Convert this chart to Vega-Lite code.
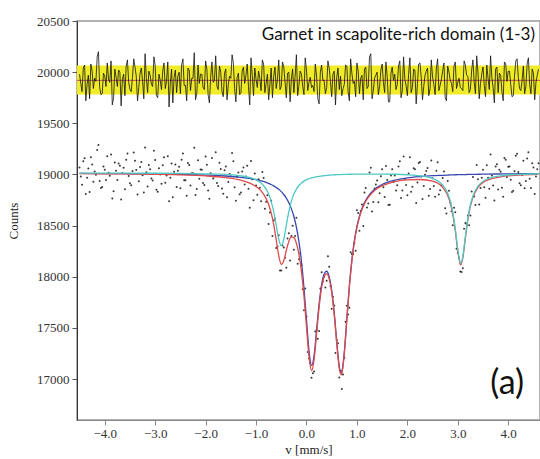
{
"$schema":"https://vega.github.io/schema/vega-lite/v6.json",
"width":463,"height":399,
"autosize":{"type":"none"},
"padding":{"left":77,"top":21,"right":0,"bottom":39},
"background":"white",
"config":{"view":{"stroke":"#999999","strokeWidth":1.5},
"axis":{"labelFont":"Liberation Serif","titleFont":"Liberation Serif","labelFontSize":13,"titleFontSize":13,"titleFontWeight":"normal","labelColor":"#333","titleColor":"#222","grid":false}},
"datasets":{
"obs":[
{"v":-4.5,"counts":19069,"resid":19980},{"v":-4.45,"counts":18899,"resid":19810},{"v":-4.4,"counts":19159,"resid":20070},{"v":-4.35,"counts":18968,"resid":19880},{"v":-4.3,"counts":18828,"resid":19740},
{"v":-4.25,"counts":19098,"resid":20010},{"v":-4.2,"counts":19028,"resid":19940},{"v":-4.15,"counts":19238,"resid":20150},{"v":-4.1,"counts":18937,"resid":19850},{"v":-4.05,"counts":18877,"resid":19790},
{"v":-4.0,"counts":19047,"resid":19960},{"v":-3.95,"counts":19177,"resid":20090},{"v":-3.9,"counts":18987,"resid":19900},{"v":-3.85,"counts":18766,"resid":19680},{"v":-3.8,"counts":19116,"resid":20030},
{"v":-3.75,"counts":18946,"resid":19860},{"v":-3.7,"counts":19086,"resid":20000},{"v":-3.65,"counts":19015,"resid":19930},{"v":-3.6,"counts":18855,"resid":19770},{"v":-3.55,"counts":19205,"resid":20120},
{"v":-3.5,"counts":18915,"resid":19830},{"v":-3.45,"counts":19034,"resid":19950},{"v":-3.4,"counts":19134,"resid":20050},{"v":-3.35,"counts":18804,"resid":19720},{"v":-3.3,"counts":19073,"resid":19990},
{"v":-3.25,"counts":18993,"resid":19910},{"v":-3.2,"counts":19263,"resid":20180},{"v":-3.15,"counts":18882,"resid":19800},{"v":-3.1,"counts":19052,"resid":19970},{"v":-3.05,"counts":18941,"resid":19860},
{"v":-3.0,"counts":19141,"resid":20060},{"v":-2.95,"counts":18831,"resid":19750},{"v":-2.9,"counts":19000,"resid":19920},{"v":-2.85,"counts":19090,"resid":20010},{"v":-2.8,"counts":18919,"resid":19840},
{"v":-2.75,"counts":19179,"resid":20100},{"v":-2.7,"counts":18968,"resid":19890},{"v":-2.65,"counts":18778,"resid":19700},{"v":-2.6,"counts":19097,"resid":20020},{"v":-2.55,"counts":19037,"resid":19960},
{"v":-2.5,"counts":18866,"resid":19790},{"v":-2.45,"counts":19205,"resid":20130},{"v":-2.4,"counts":18944,"resid":19870},{"v":-2.35,"counts":19113,"resid":20040},{"v":-2.3,"counts":18892,"resid":19820},
{"v":-2.25,"counts":19011,"resid":19940},{"v":-2.2,"counts":18800,"resid":19730},{"v":-2.15,"counts":19139,"resid":20070},{"v":-2.1,"counts":19048,"resid":19980},{"v":-2.05,"counts":18917,"resid":19850},
{"v":-2.0,"counts":19176,"resid":20110},{"v":-1.95,"counts":18844,"resid":19780},{"v":-1.9,"counts":19012,"resid":19950},{"v":-1.85,"counts":18960,"resid":19900},{"v":-1.8,"counts":19218,"resid":20160},
{"v":-1.75,"counts":18886,"resid":19830},{"v":-1.7,"counts":19054,"resid":20000},{"v":-1.65,"counts":18812,"resid":19760},{"v":-1.6,"counts":19079,"resid":20030},{"v":-1.55,"counts":18926,"resid":19880},
{"v":-1.5,"counts":18982,"resid":19940},{"v":-1.45,"counts":19128,"resid":20090},{"v":-1.4,"counts":18744,"resid":19710},{"v":-1.35,"counts":19019,"resid":19990},{"v":-1.3,"counts":18824,"resid":19800},
{"v":-1.25,"counts":19067,"resid":20050},{"v":-1.2,"counts":18979,"resid":19970},{"v":-1.15,"counts":18860,"resid":19860},{"v":-1.1,"counts":19131,"resid":20140},{"v":-1.05,"counts":18747,"resid":19770},
{"v":-1.0,"counts":18892,"resid":19930},{"v":-0.95,"counts":18952,"resid":20010},{"v":-0.9,"counts":18739,"resid":19820},{"v":-0.85,"counts":18966,"resid":20080},{"v":-0.8,"counts":18734,"resid":19890},
{"v":-0.75,"counts":18516,"resid":19730},{"v":-0.7,"counts":18744,"resid":20040},{"v":-0.65,"counts":18550,"resid":19960},{"v":-0.6,"counts":18282,"resid":19840},{"v":-0.55,"counts":18407,"resid":20120},
{"v":-0.5,"counts":18061,"resid":19860},{"v":-0.45,"counts":18286,"resid":20050},{"v":-0.4,"counts":18087,"resid":19750},{"v":-0.35,"counts":18425,"resid":20000},{"v":-0.3,"counts":18399,"resid":19930},
{"v":-0.25,"counts":18263,"resid":19800},{"v":-0.2,"counts":18578,"resid":20170},{"v":-0.15,"counts":18172,"resid":19870},{"v":-0.1,"counts":18113,"resid":19980},{"v":-0.05,"counts":17673,"resid":19780},
{"v":0.0,"counts":17612,"resid":20020},{"v":0.05,"counts":17201,"resid":19900},{"v":0.1,"counts":17012,"resid":19850},{"v":0.15,"counts":17075,"resid":19810},{"v":0.2,"counts":17481,"resid":19960},
{"v":0.25,"counts":17471,"resid":19690},{"v":0.3,"counts":18043,"resid":20070},{"v":0.35,"counts":18001,"resid":19920},{"v":0.4,"counts":17960,"resid":19850},{"v":0.45,"counts":18099,"resid":20040},
{"v":0.5,"counts":17687,"resid":19760},{"v":0.55,"counts":17720,"resid":20010},{"v":0.6,"counts":17381,"resid":19950},{"v":0.65,"counts":17016,"resid":19830},{"v":0.7,"counts":16902,"resid":19770},
{"v":0.75,"counts":17208,"resid":19880},{"v":0.8,"counts":17716,"resid":20060},{"v":0.85,"counts":17696,"resid":19720},{"v":0.9,"counts":18222,"resid":19990},{"v":0.95,"counts":18332,"resid":19910},
{"v":1.0,"counts":18650,"resid":20090},{"v":1.05,"counts":18451,"resid":19790},{"v":1.1,"counts":18707,"resid":19970},{"v":1.15,"counts":18824,"resid":20030},{"v":1.2,"counts":18678,"resid":19840},
{"v":1.25,"counts":19020,"resid":20150},{"v":1.3,"counts":18639,"resid":19740},{"v":1.35,"counts":18863,"resid":19940},{"v":1.4,"counts":18941,"resid":20000},{"v":1.45,"counts":18816,"resid":19860},
{"v":1.5,"counts":19050,"resid":20080},{"v":1.55,"counts":18779,"resid":19800},{"v":1.6,"counts":18947,"resid":19960},{"v":1.65,"counts":18705,"resid":19710},{"v":1.7,"counts":19052,"resid":20050},
{"v":1.75,"counts":18990,"resid":19980},{"v":1.8,"counts":18895,"resid":19880},{"v":1.85,"counts":19129,"resid":20110},{"v":1.9,"counts":18843,"resid":19820},{"v":1.95,"counts":18956,"resid":19930},
{"v":2.0,"counts":18798,"resid":19770},{"v":2.05,"counts":19169,"resid":20140},{"v":2.1,"counts":18880,"resid":19850},{"v":2.15,"counts":19051,"resid":20020},{"v":2.2,"counts":18921,"resid":19890},
{"v":2.25,"counts":19121,"resid":20090},{"v":2.3,"counts":18759,"resid":19730},{"v":2.35,"counts":18996,"resid":19970},{"v":2.4,"counts":19063,"resid":20040},{"v":2.45,"counts":18859,"resid":19840},
{"v":2.5,"counts":18964,"resid":19950},{"v":2.55,"counts":18782,"resid":19780},{"v":2.6,"counts":19120,"resid":20130},{"v":2.65,"counts":18845,"resid":19870},{"v":2.7,"counts":18965,"resid":20010},
{"v":2.75,"counts":18670,"resid":19750},{"v":2.8,"counts":18935,"resid":20060},{"v":2.85,"counts":18723,"resid":19920},{"v":2.9,"counts":18503,"resid":19810},{"v":2.95,"counts":18631,"resid":20100},
{"v":3.0,"counts":18233,"resid":19900},{"v":3.05,"counts":18051,"resid":19850},{"v":3.1,"counts":18084,"resid":19820},{"v":3.15,"counts":18525,"resid":20070},{"v":3.2,"counts":18598,"resid":19960},
{"v":3.25,"counts":18600,"resid":19830},{"v":3.3,"counts":18976,"resid":20120},{"v":3.35,"counts":18702,"resid":19790},{"v":3.4,"counts":18953,"resid":20000},{"v":3.45,"counts":18868,"resid":19890},
{"v":3.5,"counts":19047,"resid":20050},{"v":3.55,"counts":18773,"resid":19760},{"v":3.6,"counts":18967,"resid":19940},{"v":3.65,"counts":19195,"resid":20160},{"v":3.7,"counts":18892,"resid":19850},
{"v":3.75,"counts":19078,"resid":20030},{"v":3.8,"counts":18853,"resid":19800},{"v":3.85,"counts":19027,"resid":19970},{"v":3.9,"counts":18781,"resid":19720},{"v":3.95,"counts":19143,"resid":20080},
{"v":4.0,"counts":19076,"resid":20010},{"v":4.05,"counts":18948,"resid":19880},{"v":4.1,"counts":18840,"resid":19770},{"v":4.15,"counts":19182,"resid":20110},{"v":4.2,"counts":19023,"resid":19950},
{"v":4.25,"counts":18894,"resid":19820},{"v":4.3,"counts":19135,"resid":20060},{"v":4.35,"counts":18936,"resid":19860},{"v":4.4,"counts":19217,"resid":20140},{"v":4.45,"counts":18868,"resid":19790},
{"v":4.5,"counts":19069,"resid":19990},{"v":4.55,"counts":18979,"resid":19900},{"v":4.6,"counts":19110,"resid":20030},
{"v":-4.475,"counts":18979,"resid":19890},{"v":-4.425,"counts":19129,"resid":20040},{"v":-4.375,"counts":18808,"resid":19720},{"v":-4.325,"counts":19058,"resid":19970},{"v":-4.275,"counts":19168,"resid":20080},
{"v":-4.225,"counts":18928,"resid":19840},{"v":-4.175,"counts":18998,"resid":19910},{"v":-4.125,"counts":19287,"resid":20200},{"v":-4.075,"counts":18867,"resid":19780},{"v":-4.025,"counts":19077,"resid":19990},
{"v":-3.975,"counts":18947,"resid":19860},{"v":-3.925,"counts":19017,"resid":19930},{"v":-3.875,"counts":19196,"resid":20110},{"v":-3.825,"counts":18836,"resid":19750},{"v":-3.775,"counts":19036,"resid":19950},
{"v":-3.725,"counts":19106,"resid":20020},{"v":-3.675,"counts":18755,"resid":19670},{"v":-3.625,"counts":19065,"resid":19980},{"v":-3.575,"counts":19145,"resid":20060},{"v":-3.525,"counts":18985,"resid":19900},
{"v":-3.475,"counts":18894,"resid":19810},{"v":-3.425,"counts":19214,"resid":20130},{"v":-3.375,"counts":19044,"resid":19960},{"v":-3.325,"counts":18933,"resid":19850},{"v":-3.275,"counts":19123,"resid":20040},
{"v":-3.225,"counts":18823,"resid":19740},{"v":-3.175,"counts":19022,"resid":19940},{"v":-3.125,"counts":19092,"resid":20010},{"v":-3.075,"counts":18961,"resid":19880},{"v":-3.025,"counts":19231,"resid":20150},
{"v":-2.975,"counts":18851,"resid":19770},{"v":-2.925,"counts":19060,"resid":19980},{"v":-2.875,"counts":18910,"resid":19830},{"v":-2.825,"counts":19169,"resid":20090},{"v":-2.775,"counts":18989,"resid":19910},
{"v":-2.725,"counts":18738,"resid":19660},{"v":-2.675,"counts":19108,"resid":20030},{"v":-2.625,"counts":19027,"resid":19950},{"v":-2.575,"counts":18877,"resid":19800},{"v":-2.525,"counts":19076,"resid":20000},
{"v":-2.475,"counts":19145,"resid":20070},{"v":-2.425,"counts":18944,"resid":19870},{"v":-2.375,"counts":18793,"resid":19720},{"v":-2.325,"counts":19092,"resid":20020},{"v":-2.275,"counts":19011,"resid":19940},
{"v":-2.225,"counts":19260,"resid":20190},{"v":-2.175,"counts":18859,"resid":19790},{"v":-2.125,"counts":18958,"resid":19890},{"v":-2.075,"counts":19047,"resid":19980},{"v":-2.025,"counts":18896,"resid":19830},
{"v":-1.975,"counts":19095,"resid":20030},{"v":-1.925,"counts":18763,"resid":19700},{"v":-1.875,"counts":19161,"resid":20100},{"v":-1.825,"counts":18979,"resid":19920},{"v":-1.775,"counts":18917,"resid":19860},
{"v":-1.725,"counts":19115,"resid":20060},{"v":-1.675,"counts":18863,"resid":19810},{"v":-1.625,"counts":19040,"resid":19990},{"v":-1.575,"counts":18777,"resid":19730},{"v":-1.525,"counts":19004,"resid":19960},
{"v":-1.475,"counts":19210,"resid":20170},{"v":-1.425,"counts":18876,"resid":19840},{"v":-1.375,"counts":18981,"resid":19950},{"v":-1.325,"counts":18806,"resid":19780},{"v":-1.275,"counts":19030,"resid":20010},
{"v":-1.225,"counts":18903,"resid":19890},{"v":-1.175,"counts":19085,"resid":20080},{"v":-1.125,"counts":18675,"resid":19680},{"v":-1.075,"counts":18954,"resid":19970},{"v":-1.025,"counts":19010,"resid":20040},
{"v":-0.975,"counts":18802,"resid":19850},{"v":-0.925,"counts":18871,"resid":19940},{"v":-0.875,"counts":19023,"resid":20120},{"v":-0.825,"counts":18666,"resid":19800},{"v":-0.775,"counts":18796,"resid":19980},
{"v":-0.725,"counts":18627,"resid":19880},{"v":-0.675,"counts":18399,"resid":19750},{"v":-0.625,"counts":18568,"resid":20050},{"v":-0.575,"counts":18295,"resid":19930},{"v":-0.525,"counts":18061,"resid":19830},
{"v":-0.475,"counts":18305,"resid":20100},{"v":-0.425,"counts":18185,"resid":19900},{"v":-0.375,"counts":18373,"resid":19990},{"v":-0.325,"counts":18160,"resid":19710},{"v":-0.275,"counts":18499,"resid":20030},
{"v":-0.225,"counts":18398,"resid":19960},{"v":-0.175,"counts":18128,"resid":19770},{"v":-0.125,"counts":18230,"resid":20010},{"v":-0.075,"counts":17878,"resid":19860},{"v":-0.025,"counts":17885,"resid":20140},
{"v":0.025,"counts":17265,"resid":19820},{"v":0.075,"counts":17154,"resid":19950},{"v":0.125,"counts":17058,"resid":19870},{"v":0.175,"counts":17465,"resid":20080},{"v":0.225,"counts":17395,"resid":19740},
{"v":0.275,"counts":17885,"resid":20000},{"v":0.325,"counts":17953,"resid":19920},{"v":0.375,"counts":17895,"resid":19790},{"v":0.425,"counts":18200,"resid":20110},{"v":0.475,"counts":17910,"resid":19910},
{"v":0.525,"counts":17805,"resid":19980},{"v":0.575,"counts":17255,"resid":19680},{"v":0.625,"counts":17350,"resid":20040},{"v":0.675,"counts":17082,"resid":19960},{"v":0.725,"counts":17044,"resid":19840},
{"v":0.775,"counts":17560,"resid":20070},{"v":0.825,"counts":17630,"resid":19810},{"v":0.875,"counts":18240,"resid":20130},{"v":0.925,"counts":18220,"resid":19890},{"v":0.975,"counts":18255,"resid":19760},
{"v":1.025,"counts":18623,"resid":20010},{"v":1.075,"counts":18642,"resid":19940},{"v":1.125,"counts":18497,"resid":19730},{"v":1.175,"counts":18867,"resid":20050},{"v":1.225,"counts":18715,"resid":19860},
{"v":1.275,"counts":19065,"resid":20180},{"v":1.325,"counts":18731,"resid":19820},{"v":1.375,"counts":18902,"resid":19970},{"v":1.425,"counts":18729,"resid":19780},{"v":1.475,"counts":18983,"resid":20020},
{"v":1.525,"counts":18875,"resid":19900},{"v":1.575,"counts":19083,"resid":20100},{"v":1.625,"counts":18701,"resid":19710},{"v":1.675,"counts":18989,"resid":19990},{"v":1.725,"counts":18926,"resid":19920},
{"v":1.775,"counts":18843,"resid":19830},{"v":1.825,"counts":19077,"resid":20060},{"v":1.875,"counts":18771,"resid":19750},{"v":1.925,"counts":19175,"resid":20150},{"v":1.975,"counts":18897,"resid":19870},
{"v":2.025,"counts":19009,"resid":19980},{"v":2.075,"counts":18830,"resid":19800},{"v":2.125,"counts":19061,"resid":20030},{"v":2.175,"counts":18721,"resid":19690},{"v":2.225,"counts":19111,"resid":20080},
{"v":2.275,"counts":18980,"resid":19950},{"v":2.325,"counts":18888,"resid":19860},{"v":2.375,"counts":19035,"resid":20010},{"v":2.425,"counts":18791,"resid":19770},{"v":2.475,"counts":19137,"resid":20120},
{"v":2.525,"counts":18888,"resid":19880},{"v":2.575,"counts":19036,"resid":20040},{"v":2.625,"counts":18803,"resid":19820},{"v":2.675,"counts":18895,"resid":19930},{"v":2.725,"counts":19028,"resid":20090},
{"v":2.775,"counts":18618,"resid":19720},{"v":2.825,"counts":18840,"resid":20000},{"v":2.875,"counts":18640,"resid":19890},{"v":2.925,"counts":18675,"resid":20060},{"v":2.975,"counts":18275,"resid":19840},
{"v":3.025,"counts":18189,"resid":19940},{"v":3.075,"counts":18047,"resid":19840},{"v":3.125,"counts":18470,"resid":20110},{"v":3.175,"counts":18517,"resid":19970},{"v":3.225,"counts":18504,"resid":19800},
{"v":3.275,"counts":18833,"resid":20020},{"v":3.325,"counts":18784,"resid":19900},{"v":3.375,"counts":19093,"resid":20160},{"v":3.425,"counts":18706,"resid":19740},{"v":3.475,"counts":18968,"resid":19980},
{"v":3.525,"counts":18875,"resid":19870},{"v":3.575,"counts":19090,"resid":20070},{"v":3.625,"counts":18861,"resid":19830},{"v":3.675,"counts":18989,"resid":19950},{"v":3.725,"counts":18745,"resid":19700},
{"v":3.775,"counts":19101,"resid":20050},{"v":3.825,"counts":19045,"resid":19990},{"v":3.875,"counts":18869,"resid":19810},{"v":3.925,"counts":19162,"resid":20100},{"v":3.975,"counts":18975,"resid":19910},
{"v":4.025,"counts":19077,"resid":20010},{"v":4.075,"counts":18829,"resid":19760},{"v":4.125,"counts":19031,"resid":19960},{"v":4.175,"counts":19203,"resid":20130},{"v":4.225,"counts":18914,"resid":19840},
{"v":4.275,"counts":18995,"resid":19920},{"v":4.325,"counts":18866,"resid":19790},{"v":4.375,"counts":19157,"resid":20080},{"v":4.425,"counts":18958,"resid":19880},{"v":4.475,"counts":19109,"resid":20030},
{"v":4.525,"counts":18809,"resid":19730},{"v":4.575,"counts":19050,"resid":19970}
],
"fit":[
{"v":-4.5,"total":19009,"fe3":19010,"fe2":19014},{"v":-4.0,"total":19007,"fe3":19009,"fe2":19013},{"v":-3.5,"total":19005,"fe3":19007,"fe2":19013},
{"v":-3.0,"total":19001,"fe3":19005,"fe2":19012},{"v":-2.5,"total":18996,"fe3":19001,"fe2":19010},{"v":-2.0,"total":18986,"fe3":18994,"fe2":19006},
{"v":-1.6,"total":18969,"fe3":18985,"fe2":19000},{"v":-1.3,"total":18944,"fe3":18972,"fe2":18987},{"v":-1.1,"total":18911,"fe3":18959,"fe2":18967},
{"v":-1.0,"total":18882,"fe3":18950,"fe2":18948},{"v":-0.9,"total":18839,"fe3":18938,"fe2":18916},{"v":-0.8,"total":18764,"fe3":18923,"fe2":18857},
{"v":-0.75,"total":18706,"fe3":18913,"fe2":18808},{"v":-0.7,"total":18624,"fe3":18902,"fe2":18737},{"v":-0.65,"total":18510,"fe3":18889,"fe2":18636},
{"v":-0.6,"total":18362,"fe3":18873,"fe2":18503},{"v":-0.55,"total":18207,"fe3":18855,"fe2":18367},{"v":-0.5,"total":18121,"fe3":18832,"fe2":18304},
{"v":-0.45,"total":18156,"fe3":18804,"fe2":18367},{"v":-0.4,"total":18257,"fe3":18769,"fe2":18503},{"v":-0.35,"total":18345,"fe3":18724,"fe2":18636},
{"v":-0.3,"total":18389,"fe3":18666,"fe2":18737},{"v":-0.25,"total":18383,"fe3":18589,"fe2":18808},{"v":-0.2,"total":18328,"fe3":18486,"fe2":18857},
{"v":-0.15,"total":18222,"fe3":18345,"fe2":18892},{"v":-0.1,"total":18053,"fe3":18152,"fe2":18916},{"v":-0.05,"total":17813,"fe3":17893,"fe2":18935},
{"v":0.0,"total":17512,"fe3":17578,"fe2":18949},{"v":0.05,"total":17221,"fe3":17276,"fe2":18960},{"v":0.1,"total":17082,"fe3":17131,"fe2":18966},
{"v":0.15,"total":17185,"fe3":17228,"fe2":18972},{"v":0.2,"total":17441,"fe3":17478,"fe2":18978},{"v":0.25,"total":17701,"fe3":17734,"fe2":18982},
{"v":0.3,"total":17893,"fe3":17923,"fe2":18985},{"v":0.35,"total":18001,"fe3":18028,"fe2":18988},{"v":0.4,"total":18030,"fe3":18054,"fe2":18991},
{"v":0.45,"total":17979,"fe3":18002,"fe2":18993},{"v":0.5,"total":17847,"fe3":17868,"fe2":18995},{"v":0.55,"total":17630,"fe3":17649,"fe2":18996},
{"v":0.6,"total":17351,"fe3":17369,"fe2":18998},{"v":0.65,"total":17106,"fe3":17123,"fe2":18999},{"v":0.69,"total":17042,"fe3":17058,"fe2":18999},
{"v":0.7,"total":17052,"fe3":17068,"fe2":19000},{"v":0.75,"total":17248,"fe3":17263,"fe2":19000},{"v":0.8,"total":17576,"fe3":17590,"fe2":19001},
{"v":0.85,"total":17896,"fe3":17910,"fe2":19002},{"v":0.9,"total":18152,"fe3":18165,"fe2":19002},{"v":0.95,"total":18342,"fe3":18354,"fe2":19003},
{"v":1.0,"total":18480,"fe3":18492,"fe2":19003},{"v":1.05,"total":18581,"fe3":18593,"fe2":19003},{"v":1.1,"total":18657,"fe3":18668,"fe2":19004},
{"v":1.15,"total":18714,"fe3":18725,"fe2":19004},{"v":1.2,"total":18758,"fe3":18770,"fe2":19004},{"v":1.35,"total":18843,"fe3":18855,"fe2":19004},
{"v":1.5,"total":18890,"fe3":18902,"fe2":19004},{"v":1.75,"total":18930,"fe3":18944,"fe2":19002},{"v":2.0,"total":18948,"fe3":18966,"fe2":18997},
{"v":2.25,"total":18951,"fe3":18979,"fe2":18987},{"v":2.5,"total":18934,"fe3":18988,"fe2":18961},{"v":2.7,"total":18875,"fe3":18992,"fe2":18898},
{"v":2.8,"total":18795,"fe3":18994,"fe2":18816},{"v":2.85,"total":18723,"fe3":18995,"fe2":18743},{"v":2.9,"total":18613,"fe3":18996,"fe2":18632},
{"v":2.95,"total":18451,"fe3":18997,"fe2":18469},{"v":3.0,"total":18253,"fe3":18998,"fe2":18270},{"v":3.05,"total":18121,"fe3":18998,"fe2":18138},
{"v":3.06,"total":18117,"fe3":18998,"fe2":18134},{"v":3.1,"total":18184,"fe3":18999,"fe2":18200},{"v":3.15,"total":18375,"fe3":18999,"fe2":18391},
{"v":3.2,"total":18558,"fe3":19000,"fe2":18574},{"v":3.25,"total":18690,"fe3":19000,"fe2":18704},{"v":3.3,"total":18776,"fe3":19001,"fe2":18790},
{"v":3.4,"total":18873,"fe3":19002,"fe2":18886},{"v":3.6,"total":18947,"fe3":19004,"fe2":18959},{"v":3.9,"total":18981,"fe3":19005,"fe2":18990},
{"v":4.2,"total":18993,"fe3":19007,"fe2":19001},{"v":4.6,"total":19000,"fe3":19008,"fe2":19007}
],
"labels":[
{"v":4.53,"counts":20360,"label":"Garnet in scapolite-rich domain (1-3)"}
],
"tag":[
{"v":3.98,"counts":16948,"label":"(a)"}
]
},
"layer":[
{"data":{"values":[{}]},
 "mark":{"type":"rect","color":"#f1ec2a"},
 "encoding":{
  "x":{"datum":-4.55,"type":"quantitative","title":"v [mm/s]"},
  "x2":{"datum":4.63},
  "y":{"datum":19782,"type":"quantitative","scale":{"domain":[16600,20500],"nice":false,"zero":false},"title":"Counts","axis":{"values":[17000,17500,18000,18500,19000,19500,20000,20500],"format":"d","tickSize":5,"labelPadding":3,"titlePadding":16,"domainColor":"#333","tickColor":"#555","labelFont":"Liberation Serif","labelFontSize":13,"labelColor":"#333"}},
  "y2":{"datum":20066}}},
{"data":{"values":[{}]},
 "mark":{"type":"rule","color":"#c0504d","strokeWidth":1},
 "encoding":{"x":{"datum":-4.55,"type":"quantitative","title":"v [mm/s]"},"x2":{"datum":4.63},"y":{"datum":19920,"type":"quantitative","title":"Counts"}}},
{"data":{"name":"obs"},
 "mark":{"type":"line","color":"#111","strokeWidth":0.8},
 "encoding":{"x":{"field":"v","type":"quantitative","scale":{"domain":[-4.55,4.63],"nice":false,"zero":false},"title":"v [mm/s]","axis":{"values":[-4,-3,-2,-1,0,1,2,3,4],"format":".1f","tickSize":5,"labelPadding":2,"titlePadding":3,"domainColor":"#888","tickColor":"#888","labelFont":"Liberation Serif","labelFontSize":13,"labelColor":"#333"}},
  "y":{"field":"resid","type":"quantitative","title":"Counts"}}},
{"data":{"name":"obs"},
 "mark":{"type":"point","filled":true,"size":4,"color":"#222","opacity":0.9},
 "encoding":{"x":{"field":"v","type":"quantitative","title":"v [mm/s]"},
  "y":{"field":"counts","type":"quantitative","title":"Counts"}}},
{"data":{"name":"fit"},
 "mark":{"type":"line","color":"#3848b0","strokeWidth":1.3,"interpolate":"monotone"},
 "encoding":{"x":{"field":"v","type":"quantitative","title":"v [mm/s]"},
  "y":{"field":"fe3","type":"quantitative","title":"Counts"}}},
{"data":{"name":"fit"},
 "mark":{"type":"line","color":"#e04a48","strokeWidth":1.3,"interpolate":"monotone"},
 "encoding":{"x":{"field":"v","type":"quantitative","title":"v [mm/s]"},
  "y":{"field":"total","type":"quantitative","title":"Counts"}}},
{"data":{"name":"fit"},
 "mark":{"type":"line","color":"#4ec9c3","strokeWidth":1.3,"interpolate":"monotone"},
 "encoding":{"x":{"field":"v","type":"quantitative","title":"v [mm/s]"},
  "y":{"field":"fe2","type":"quantitative","title":"Counts"}}},
{"data":{"name":"labels"},
 "mark":{"type":"text","align":"right","baseline":"middle","font":"Lato","fontSize":17,"color":"#111"},
 "encoding":{"x":{"field":"v","type":"quantitative","title":"v [mm/s]"},
  "y":{"field":"counts","type":"quantitative","title":"Counts"},"text":{"field":"label"}}},
{"data":{"name":"tag"},
 "mark":{"type":"text","align":"center","baseline":"middle","font":"Lato","fontSize":34,"color":"#111"},
 "encoding":{"x":{"field":"v","type":"quantitative","title":"v [mm/s]"},
  "y":{"field":"counts","type":"quantitative","title":"Counts"},"text":{"field":"label"}}}
]
}
